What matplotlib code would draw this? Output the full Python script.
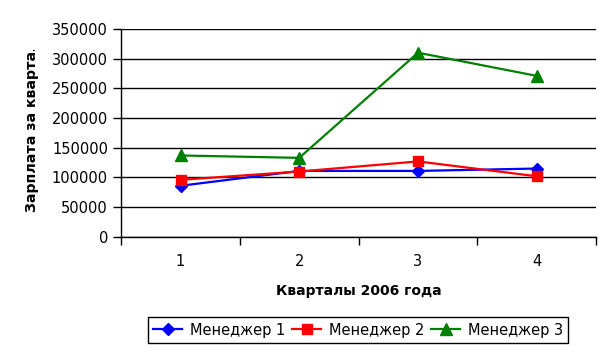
import matplotlib.pyplot as plt
from matplotlib.ticker import FixedLocator, NullFormatter
from matplotlib.transforms import Bbox

quarters = [1, 2, 3, 4]
manager1 = [86000, 111000, 111000, 115000]
manager2 = [96000, 110000, 127000, 102000]
manager3 = [137000, 133000, 310000, 271000]
labels = ['Менеджер 1', 'Менеджер 2', 'Менеджер 3']

plt.rcParams['font.family'] = 'DejaVu Sans'

fig = plt.figure(figsize=(6.12, 3.53), dpi=100)
ax = fig.add_axes([0.198, 0.329, 0.776, 0.589])

ax.plot(quarters, manager1, color='#0000ff', marker='D', markersize=6, linewidth=1.6, label=labels[0])
ax.plot(quarters, manager2, color='#ff0000', marker='s', markersize=7, linewidth=1.6, label=labels[1])
ax.plot(quarters, manager3, color='#008000', marker='^', markersize=8, linewidth=1.6, label=labels[2])

ax.set_xlim(0.5, 4.5)
ax.set_ylim(0, 350000)
ax.set_yticks(range(0, 350001, 50000))
ax.set_xticks(quarters)
ax.xaxis.set_minor_locator(FixedLocator([0.5, 1.5, 2.5, 3.5, 4.5]))
ax.xaxis.set_minor_formatter(NullFormatter())
ax.tick_params(axis='x', which='major', length=0, pad=12, labelsize=10.5)
ax.tick_params(axis='x', which='minor', length=6, width=1, direction='out')
ax.tick_params(axis='y', length=6, width=1, direction='out', labelsize=10.5)
ax.grid(True, axis='y', color='black', linewidth=1)
ax.set_axisbelow(True)

for side in ['top', 'right']:
    ax.spines[side].set_visible(False)
for side in ['left', 'bottom']:
    ax.spines[side].set_linewidth(1)

ax.set_xlabel('Кварталы 2006 года', fontsize=10, fontweight='bold', labelpad=11)

# y label is cut off at the top, like in the original chart
ylab = fig.text(32 / 612, 1 - 212 / 353, 'Зарплата за квартал', rotation=90,
                fontsize=10.2, fontweight='bold', ha='center', va='bottom')
ylab.set_clip_box(Bbox([[0, 0], [612, 353 - 50]]))
ylab.set_clip_on(True)

fig.legend(loc='center', bbox_to_anchor=(358 / 612, 1 - 330 / 353), ncol=3,
           fontsize=10.5, frameon=True, fancybox=False, edgecolor='black',
           handlelength=2.0, columnspacing=0.5, handletextpad=0.5,
           borderpad=0.35, framealpha=1)

fig.savefig('out.png', dpi=100)
